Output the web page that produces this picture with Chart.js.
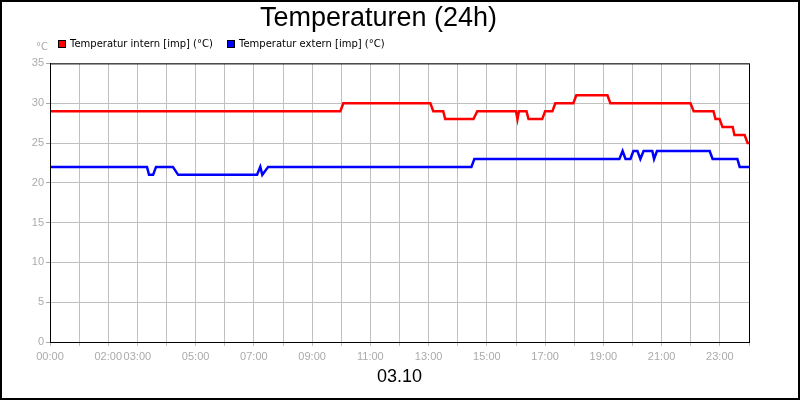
<!DOCTYPE html>
<html>
<head>
<meta charset="utf-8">
<script src="https://cdn.jsdelivr.net/npm/chart.js@4"></script>
<style>
body{margin:0;background:#fff}
#wrap{width:800px;height:400px;position:relative}
</style>
</head>
<body>
<div id="wrap"><canvas id="myChart" width="800" height="400"></canvas></div>
<script>
// hours of day
const internT = [0, 9.97, 10.07, 13.06, 13.16, 13.5, 13.57, 14.54, 14.67, 16.0, 16.05, 16.1, 16.36, 16.43, 16.9, 17.0, 17.25, 17.35, 17.97, 18.07, 19.14, 19.24, 21.99, 22.1, 22.78, 22.85, 22.99, 23.09, 23.44, 23.5, 23.85, 23.95, 24.0]
const internV = [29, 29, 30, 30, 29, 29, 28, 28, 29, 29, 28, 29, 29, 28, 28, 29, 29, 30, 30, 31, 31, 30, 30, 29, 29, 28, 28, 27, 27, 26, 26, 25, 25]
const externT = [0, 3.33, 3.4, 3.54, 3.64, 4.22, 4.4, 7.11, 7.22, 7.29, 7.49, 14.47, 14.57, 19.55, 19.66, 19.76, 19.93, 20.03, 20.17, 20.27, 20.38, 20.68, 20.74, 20.84, 22.65, 22.75, 23.6, 23.68, 24.0]
const externV = [22, 22, 21, 21, 22, 22, 21, 21, 22, 21, 22, 22, 23, 23, 24, 23, 23, 24, 24, 23, 24, 24, 23, 24, 24, 23, 23, 22, 22]
const shownHours = [0, 2, 3, 5, 7, 9, 11, 13, 15, 17, 19, 21, 23]

const toPts = (t, v) => t.map((x, i) => ({x: x, y: v[i]}))
const pad = h => (h < 10 ? "0" : "") + h + ":00"

// frame, unit label, plot border, legend
const extras = {
    id: "extras",
    afterDraw(c) {
        const g = c.ctx, a = c.chartArea
        g.save()
        g.strokeStyle = "#000"
        g.lineWidth = 1
        g.strokeRect(a.left + 0.5, a.top + 0.5, a.right - a.left, a.bottom - a.top)
        g.lineWidth = 2
        g.strokeRect(1, 1, 798, 398)
        g.fillStyle = "#aaa"
        g.font = "10px 'DejaVu Sans'"
        g.textAlign = "center"
        g.fillText("°C", 42, 50)
        // legend
        g.textAlign = "left"
        g.textBaseline = "middle"
        g.font = "10px 'DejaVu Sans'"
        const lx = [58, 227]
        c.data.datasets.forEach((d, i) => {
            g.fillStyle = d.borderColor
            g.fillRect(lx[i], 40, 8, 8)
            g.lineWidth = 1
            g.strokeStyle = "#000"
            g.strokeRect(lx[i] + 0.5, 40.5, 7, 7)
            g.fillStyle = "#000"
            g.fillText(d.label, lx[i] + 12, 44)
        })
        g.restore()
    }
}

var ctx = document.getElementById('myChart').getContext('2d');
var chart = new Chart(ctx, {
    type: "line",
    data: {
        datasets: [{
            label: "Temperatur intern [imp] (°C)",
            data: toPts(internT, internV),
            borderColor: "#ff0000",
            backgroundColor: "#ff0000",
            borderWidth: 2.5,
            pointRadius: 0,
            tension: 0
        }, {
            label: "Temperatur extern [imp] (°C)",
            data: toPts(externT, externV),
            borderColor: "#0000ff",
            backgroundColor: "#0000ff",
            borderWidth: 2.5,
            pointRadius: 0,
            tension: 0
        }]
    },
    options: {
        responsive: false,
        animation: false,
        layout: {padding: {left: 8, right: 51, top: 0, bottom: 8}},
        plugins: {
            title: {display: true, text: "Temperaturen (24h)", color: "#000",
                font: {family: "'Liberation Sans'", size: 27, weight: "normal"}, padding: {top: 2, bottom: 29}},
            legend: {display: false},
            tooltip: {enabled: false}
        },
        scales: {
            x: {
                type: "linear", min: 0, max: 24,
                afterBuildTicks: s => { s.ticks = []; for (let h = 0; h <= 24; h++) s.ticks.push({value: h}) },
                afterFit: s => { s.height = 50 },
                ticks: {color: "#aaa", font: {family: "'Liberation Sans Narrow', 'Liberation Sans'", size: 11},
                    maxRotation: 0, autoSkip: false, padding: 4,
                    callback: v => shownHours.includes(v) ? pad(v) : ""},
                grid: {color: "#c0c0c0", tickColor: "#c0c0c0", tickLength: 4},
                border: {color: "#000"},
                title: {display: true, text: "03.10", color: "#000",
                    font: {family: "'Liberation Sans'", size: 18}, padding: {top: 12}}
            },
            y: {
                min: 0, max: 35,
                afterFit: s => { s.width = 42 },
                ticks: {stepSize: 5, color: "#aaa", font: {family: "'Liberation Sans'", size: 11}, padding: 2},
                grid: {color: "#c0c0c0", tickColor: "#aaa", tickLength: 4},
                border: {color: "#000"}
            }
        }
    },
    plugins: [extras]
});
</script>
</body>
</html>
